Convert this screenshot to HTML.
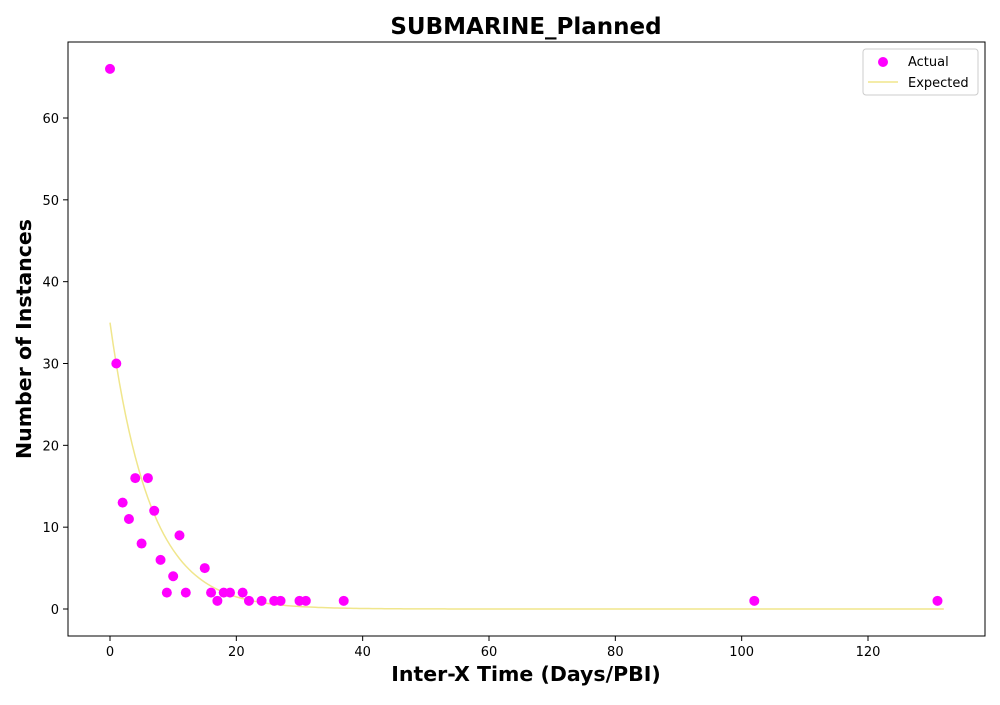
<!DOCTYPE html>
<html><head><meta charset="utf-8"><style>
body{margin:0;background:#fff;font-family:"Liberation Sans","DejaVu Sans",sans-serif;}
</style></head><body>
<svg id="chart" width="1000" height="700" xmlns="http://www.w3.org/2000/svg" font-family="DejaVu Sans, Liberation Sans, sans-serif">
<rect width="1000" height="700" fill="#fff"/>
<text x="526" y="34" text-anchor="middle" font-size="23" font-weight="bold">SUBMARINE_Planned</text>
<g id="plot"></g>
<rect x="68" y="42" width="917" height="594" fill="none" stroke="#000" stroke-width="1"/>
<text x="526" y="681" text-anchor="middle" font-size="20.5" font-weight="bold">Inter-X Time (Days/PBI)</text>
<text transform="translate(31,339) rotate(-90)" text-anchor="middle" font-size="20.5" font-weight="bold">Number of Instances</text>
<g>
<rect x="863" y="49" width="115" height="46" fill="#fff" stroke="#ccc" rx="3"/>
<circle cx="883" cy="62" r="5" fill="#ff00ff"/>
<text x="908" y="66" font-size="13">Actual</text>
<line x1="868" y1="82" x2="898" y2="82" stroke="#f0e68c" stroke-width="1.5"/>
<text x="908" y="87" font-size="13">Expected</text>
</g>
</svg>
<script>
const xs=[0,1,2,3,4,5,6,7,8,9,10,11,12,15,16,17,18,19,21,22,24,26,27,30,31,37,102,131];
const ys=[66,30,13,11,16,8,16,12,6,2,4,9,2,5,2,1,2,2,2,1,1,1,1,1,1,1,1,1];
const xTicks=[0,20,40,60,80,100,120];
const yTicks=[0,10,20,30,40,50,60];
const expA=35, expK=0.158, expMax=132;
const sx=v=>110+v*(868-110)/120;
const sy=v=>609-v*(609-118)/60;
const NS="http://www.w3.org/2000/svg";
const svg=document.getElementById('chart');
const g=document.getElementById('plot');
function mk(t,a,p){const e=document.createElementNS(NS,t);for(const k in a)e.setAttribute(k,a[k]);(p||g).appendChild(e);return e;}
xTicks.forEach(t=>{
 const l=mk('line',{x1:sx(t),x2:sx(t),y1:636,y2:641,stroke:'#000'});
 
 
 const tx=mk('text',{x:sx(t),y:656,'text-anchor':'middle','font-size':13});tx.textContent=t;
 
 
});
yTicks.forEach(t=>{
 const l=mk('line',{x1:63,x2:68,y1:sy(t),y2:sy(t),stroke:'#000'});
 
 
 const tx=mk('text',{x:59,y:sy(t)+5,'text-anchor':'end','font-size':13});tx.textContent=t;
 
 
});
let d='';
for(let i=0;i<=264;i++){const x=i*expMax/264;d+=(i?'L':'M')+sx(x).toFixed(2)+','+sy(expA*Math.exp(-expK*x)).toFixed(2);}
const p=mk('path',{d:d,fill:'none',stroke:'#f0e68c','stroke-width':1.5});


xs.forEach((x,i)=>{
 const c=mk('circle',{cx:sx(x),cy:sy(ys[i]),r:5,fill:'#ff00ff'});
 
 
});
</script>
</body></html>
